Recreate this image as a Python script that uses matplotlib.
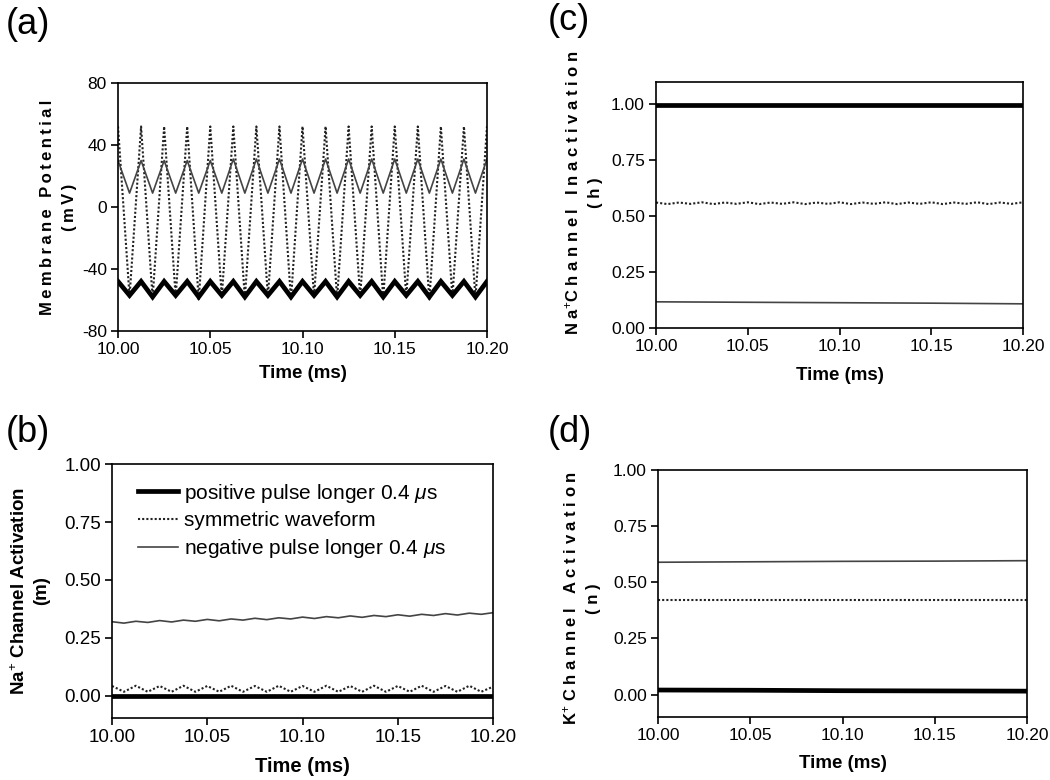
import numpy as np
import matplotlib
matplotlib.use("Agg")
import matplotlib.pyplot as plt

plt.rcParams['font.family'] = ['Liberation Sans', 'DejaVu Sans']
plt.rcParams['mathtext.fontset'] = 'custom'
plt.rcParams['mathtext.rm'] = 'Liberation Sans'
plt.rcParams['mathtext.it'] = 'Liberation Sans:italic'
plt.rcParams['mathtext.bf'] = 'Liberation Sans:bold'
plt.rcParams['axes.unicode_minus'] = False

# vertex times of the waveforms (ms), one vertex per half period
t = [10.0, 10.00625, 10.0125, 10.01875, 10.025, 10.03125, 10.0375, 10.04375,
     10.05, 10.05625, 10.0625, 10.06875, 10.075, 10.08125, 10.0875, 10.09375,
     10.1, 10.10625, 10.1125, 10.11875, 10.125, 10.13125, 10.1375, 10.14375,
     10.15, 10.15625, 10.1625, 10.16875, 10.175, 10.18125, 10.1875, 10.19375, 10.2]
t_flat = [10.0, 10.05, 10.1, 10.15, 10.2]

labels = ["positive pulse longer 0.4 $\\mu$s", "symmetric waveform",
          "negative pulse longer 0.4 $\\mu$s"]

# (a) membrane potential (mV)
v_pos = [-48, -57, -48, -58, -48, -57, -48, -58, -48, -57, -48, -58, -48, -57, -48, -58,
         -48, -57, -48, -58, -48, -57, -48, -58, -48, -57, -48, -58, -48, -57, -48, -58, -48]
v_sym = [52, -58, 52, -59, 52, -58, 52, -60, 52, -58, 52, -59, 52, -58, 52, -60,
         52, -58, 52, -59, 52, -58, 52, -59, 52, -58, 52, -60, 52, -58, 52, -59, 52]
v_neg = [30, 9, 30, 9, 30, 9, 30, 9, 30, 9, 31, 9, 31, 9, 31, 9,
         31, 9, 31, 9, 31, 9, 31, 9, 31, 9, 31, 9, 31, 9, 31, 9, 31]

# (b) Na+ activation m
m_pos = [0.0, 0.0, 0.0, 0.0, 0.0]
m_sym = [0.043, 0.018, 0.044, 0.018, 0.043, 0.018, 0.044, 0.018, 0.043, 0.018, 0.044,
         0.018, 0.043, 0.018, 0.044, 0.018, 0.043, 0.018, 0.044, 0.018, 0.043, 0.018,
         0.044, 0.018, 0.043, 0.018, 0.044, 0.018, 0.043, 0.018, 0.044, 0.018, 0.040]
m_neg = [0.320, 0.314, 0.322, 0.317, 0.325, 0.319, 0.327, 0.322, 0.330, 0.324, 0.332,
         0.327, 0.335, 0.329, 0.337, 0.332, 0.340, 0.334, 0.342, 0.337, 0.345, 0.339,
         0.347, 0.342, 0.350, 0.344, 0.352, 0.347, 0.355, 0.349, 0.357, 0.352, 0.359]

# (c) Na+ inactivation h
h_pos = [0.996, 0.996, 0.996, 0.996, 0.996]
h_sym = [0.561, 0.554, 0.561, 0.555, 0.562, 0.554, 0.561, 0.555, 0.562, 0.554, 0.561,
         0.555, 0.562, 0.554, 0.561, 0.555, 0.562, 0.554, 0.561, 0.555, 0.562, 0.554,
         0.561, 0.555, 0.562, 0.554, 0.561, 0.555, 0.562, 0.554, 0.561, 0.555, 0.562]
h_neg = [0.117, 0.115, 0.113, 0.111, 0.108]

# (d) K+ activation n
n_pos = [0.020, 0.019, 0.017, 0.016, 0.015]
n_sym = [0.423, 0.423, 0.423, 0.423, 0.423]
n_neg = [0.589, 0.591, 0.593, 0.594, 0.596]

x_ticks = [10.00, 10.05, 10.10, 10.15, 10.20]
x_ticklabels = ["10.00", "10.05", "10.10", "10.15", "10.20"]
frac_ticks = [0, 0.25, 0.5, 0.75, 1.0]
frac_ticklabels = ["0.00", "0.25", "0.50", "0.75", "1.00"]

fig = plt.figure(figsize=(10.5, 7.8), dpi=100)

ax_a = fig.add_axes([0.1124, 0.5756, 0.3514, 0.3179])
ax_c = fig.add_axes([0.6248, 0.5795, 0.3495, 0.3154])
ax_b = fig.add_axes([0.1067, 0.0795, 0.3629, 0.3256])
ax_d = fig.add_axes([0.6267, 0.0808, 0.3514, 0.3167])

thick = dict(color='black', lw=3.4, solid_joinstyle='miter')
dotted = dict(color='#222222', lw=1.5, linestyle=(0, (1, 1)))
thin = dict(color='#444444', lw=1.2)

TS = "\u2009"  # thin space for the letter-spaced labels


def spaced(s, sep):
    return sep.join(s)


def style(ax, tick_size):
    ax.set_xlim(10.0, 10.2)
    ax.set_xticks(x_ticks)
    ax.set_xticklabels(x_ticklabels)
    ax.tick_params(direction='out', length=5, width=1.2, labelsize=tick_size, pad=3)
    for s in ax.spines.values():
        s.set_linewidth(1.2)


# (a)
ax_a.plot(t, v_sym, **dotted)
ax_a.plot(t, v_neg, **thin)
ax_a.plot(t, v_pos, **thick)
ax_a.set_ylim(-80, 80)
ax_a.set_yticks([-80, -40, 0, 40, 80])
style(ax_a, 12.5)
ax_a.set_ylabel(spaced("Membrane Potential", TS) + "\n" + spaced("(mV)", TS),
                fontsize=12, fontweight='bold', linespacing=1.6)
ax_a.yaxis.set_label_coords(-0.111, 0.5)
ax_a.set_xlabel("Time (ms)", fontsize=13.5, fontweight='bold')
ax_a.xaxis.set_label_coords(0.5, -0.137)

# (c)
ax_c.plot(t, h_sym, **dotted)
ax_c.plot(t_flat, h_neg, **thin)
ax_c.plot(t_flat, h_pos, **thick)
ax_c.set_ylim(0, 1.1)
ax_c.set_yticks(frac_ticks)
ax_c.set_yticklabels(frac_ticklabels)
style(ax_c, 12.5)
ax_c.set_ylabel("N a$^{+}$C h a n n e l   I n a c t i v a t i o n\n( h )", fontsize=12,
                fontweight='bold', linespacing=1.6)
ax_c.yaxis.set_label_coords(-0.144, 0.55)
ax_c.set_xlabel("Time (ms)", fontsize=13.5, fontweight='bold')
ax_c.xaxis.set_label_coords(0.5, -0.159)

# (b)
ax_b.plot(t_flat, m_pos, label=labels[0], **thick)
ax_b.plot(t, m_sym, label=labels[1], **dotted)
ax_b.plot(t, m_neg, label=labels[2], **thin)
ax_b.set_ylim(-0.095, 1.0)
ax_b.set_yticks(frac_ticks)
ax_b.set_yticklabels(frac_ticklabels)
style(ax_b, 13.5)
ax_b.set_ylabel("Na$^{+}$ Channel Activation\n(m)", fontsize=13.5, fontweight='bold',
                linespacing=1.3)
ax_b.yaxis.set_label_coords(-0.163, 0.5)
ax_b.set_xlabel("Time (ms)", fontsize=14.5, fontweight='bold')
ax_b.xaxis.set_label_coords(0.5, -0.154)
ax_b.legend(loc='upper left', bbox_to_anchor=(0.02, 1.005), frameon=False, fontsize=15,
            handlelength=1.9, handletextpad=0.3, labelspacing=0.32)

# (d)
ax_d.plot(t_flat, n_sym, **dotted)
ax_d.plot(t_flat, n_neg, **thin)
ax_d.plot(t_flat, n_pos, **thick)
ax_d.set_ylim(-0.1, 1.0)
ax_d.set_yticks(frac_ticks)
ax_d.set_yticklabels(frac_ticklabels)
style(ax_d, 12.5)
ax_d.set_ylabel("K$^{+}$ C h a n n e l   A c t i v a t i o n\n( n )", fontsize=12,
                fontweight='bold', linespacing=1.6)
ax_d.yaxis.set_label_coords(-0.154, 0.48)
ax_d.set_xlabel("Time (ms)", fontsize=13.5, fontweight='bold')
ax_d.xaxis.set_label_coords(0.5, -0.154)

# panel letters
fig.text(6 / 1050, 1 - 24 / 780, "(a)", fontsize=26, va='center', ha='left')
fig.text(6 / 1050, 1 - 432 / 780, "(b)", fontsize=26, va='center', ha='left')
fig.text(548 / 1050, 1 - 20 / 780, "(c)", fontsize=26, va='center', ha='left')
fig.text(548 / 1050, 1 - 432 / 780, "(d)", fontsize=26, va='center', ha='left')

fig.savefig("out.png", dpi=100)
